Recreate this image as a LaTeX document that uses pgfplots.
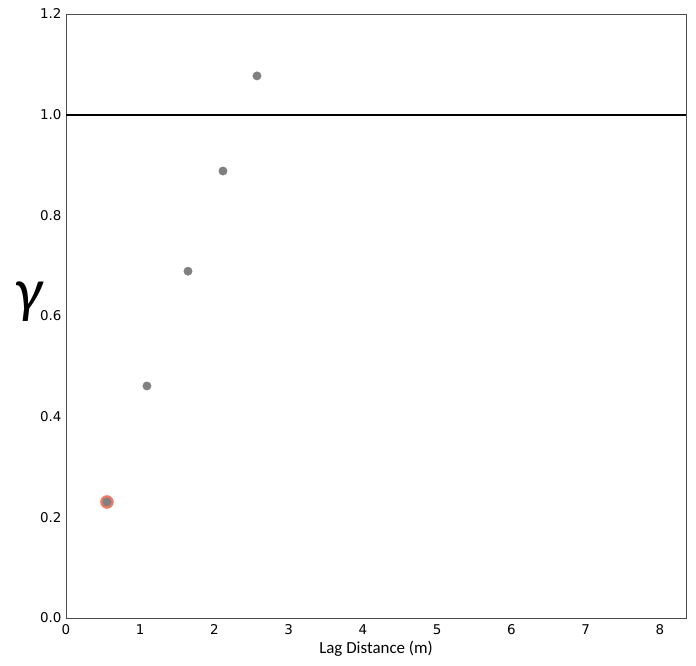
\documentclass[border=0pt]{standalone}
\usepackage{pgfplots}
\pgfplotsset{compat=1.18}
\usepackage{fontspec}
\setmainfont{Carlito}
\newfontfamily\tickfont{DejaVu Sans}
\definecolor{pt}{HTML}{808080}
\definecolor{ring}{HTML}{F07868}
\begin{document}
\begin{tikzpicture}
\useasboundingbox (-66bp,-48bp) rectangle (630bp,618bp);
\begin{axis}[
  at={(0,0)}, anchor=south west,
  scale only axis, width=620bp, height=604bp,
  xmin=0, xmax=8.35, ymin=0, ymax=1.2,
  xtick={0,1,...,8}, ytick={0,0.2,...,1.2},
  major tick length=0pt,
  axis line style={draw=black!70, line width=0.6bp},
  tick label style={font=\tickfont\fontsize{13.5}{15}\selectfont},
  xticklabel style={anchor=north, yshift=-3bp},
  /pgf/number format/assume math mode=true,
  yticklabel style={anchor=east, xshift=-1bp, /pgf/number format/fixed, /pgf/number format/fixed zerofill, /pgf/number format/precision=1},
  xlabel={Lag Distance (m)},
  xlabel style={font=\fontsize{17}{19}\selectfont, at={(axis description cs:0.5,0)}, anchor=north, yshift=-20bp},
  ylabel={\fontsize{62}{66}\selectfont\itshape γ},
  ylabel style={rotate=-90, at={(axis description cs:0,0.5)}, anchor=center, xshift=-38bp, yshift=14bp},
  clip=false,
]
\addplot[black, line width=1.8bp] coordinates {(0,1) (8.35,1)};
\addplot[only marks, mark=*, mark size=6.5bp, draw=ring, fill=ring] coordinates {(0.552,0.2305)};
\addplot[only marks, mark=*, mark size=4.2bp, draw=pt, fill=pt] coordinates {
(0.552,0.2305) (1.09,0.461) (1.643,0.689) (2.114,0.888) (2.572,1.077)};
\end{axis}
\end{tikzpicture}
\end{document}
